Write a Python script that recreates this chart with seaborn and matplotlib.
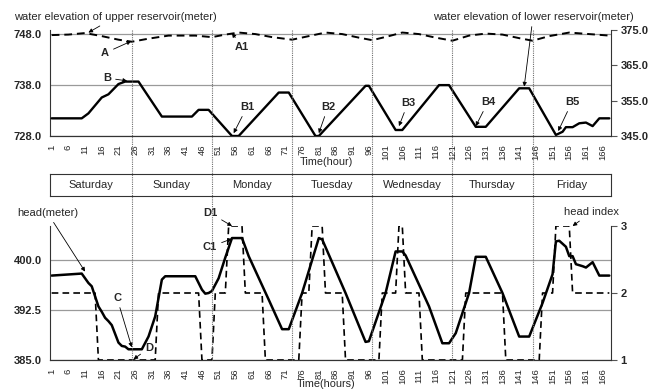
import matplotlib
matplotlib.use("Agg")
import matplotlib.pyplot as plt
import seaborn as sns
from matplotlib.lines import Line2D
from matplotlib.transforms import blended_transform_factory

# ---------------- data ----------------
upper_hours = [1, 6, 11, 16, 21, 25, 30, 36, 44, 49, 53, 57, 62, 67, 73, 78, 83, 88, 93, 97,
               102, 106, 111, 116, 121, 126, 131, 136, 141, 145, 150, 156, 162, 168]
upper_level = [747.8, 747.9, 748.2, 747.6, 746.9, 746.5, 747.1, 747.7, 747.7, 747.4, 747.9, 748.3,
               748.0, 747.4, 746.9, 747.6, 748.3, 748.0, 747.3, 746.8, 747.6, 748.3, 748.0, 747.3,
               746.7, 747.7, 748.1, 747.9, 747.2, 746.7, 747.6, 748.3, 748.0, 747.7]

lower_hours = [1, 10, 12, 16, 18, 21, 23, 27, 34, 43, 45, 48, 55, 57, 69, 72, 80, 81, 95, 96,
               104, 106, 117, 120, 128, 131, 141, 144, 152, 154, 155, 157, 159, 161, 163, 165, 168]
lower_level = [350.0, 350.0, 351.4, 355.9, 356.8, 359.7, 360.4, 360.4, 350.5, 350.5, 352.4, 352.4,
               345.0, 345.0, 357.3, 357.3, 345.0, 345.0, 359.2, 359.2, 346.7, 346.7, 359.4, 359.4,
               347.6, 347.6, 358.5, 358.5, 345.3, 346.2, 347.5, 347.5, 348.6, 348.8, 347.8, 350.0, 350.0]

head_hours = [1, 10, 11, 12, 13, 15, 16, 17, 18, 19, 21, 22, 23, 24, 28, 30, 32, 34, 35, 44, 46, 47,
              48, 49, 51, 53, 55, 58, 60, 66, 70, 72, 76, 81, 82, 89, 95, 96, 101, 104, 106, 107,
              114, 118, 120, 122, 126, 128, 131, 136, 141, 144, 148, 151, 152, 153, 155, 156, 157,
              158, 160, 161, 163, 165, 168]
head_level = [397.6, 397.9, 397.2, 396.5, 396.0, 393.0, 392.2, 391.3, 390.8, 390.2, 387.6, 387.1,
              387.0, 386.6, 386.6, 388.5, 391.5, 397.0, 397.5, 397.5, 395.5, 394.9, 395.0, 395.3,
              397.2, 400.3, 403.2, 403.2, 400.5, 394.0, 389.6, 389.6, 395.0, 403.2, 403.0, 395.0,
              387.7, 387.8, 395.0, 401.2, 401.2, 400.6, 393.0, 387.5, 387.5, 389.0, 395.0, 400.4,
              400.4, 395.0, 388.5, 388.5, 393.5, 397.8, 402.7, 402.8, 401.9, 400.5, 400.5, 399.3,
              399.0, 398.8, 399.6, 397.6, 397.6]

index_hours = [1, 14, 15, 32, 33, 45, 46, 49, 50, 53, 54, 58, 59, 64, 65, 75, 76, 78, 79, 82, 83,
               88, 89, 99, 100, 104, 105, 106, 107, 111, 112, 124, 125, 136, 137, 147, 148, 151,
               152, 156, 157, 168]
index_level = [2, 2, 1, 1, 2, 2, 1, 1, 2, 2, 3, 3, 2, 2, 1, 1, 2, 2, 3, 3, 2,
               2, 1, 1, 2, 2, 3, 3, 2, 2, 1, 1, 2, 2, 1, 1, 2, 2,
               3, 3, 2, 2]

day_names = ["Saturday", "Sunday", "Monday", "Tuesday", "Wednesday", "Thursday", "Friday"]
hour_ticks = list(range(1, 167, 5))
top_left_ticks = [728.0, 738.0, 748.0]
top_right_ticks = [345.0, 355.0, 365.0, 375.0]
bot_left_ticks = [385.0, 392.5, 400.0]
bot_right_ticks = [1, 2, 3]

# ---------------- style ----------------
sns.set_style("white")
plt.rcParams["font.family"] = ["Liberation Sans", "DejaVu Sans"]

W, H = 651, 391
fig = plt.figure(figsize=(W / 100, H / 100), dpi=100)


def rect(l, t, r, b):
    return [l / W, 1 - b / H, (r - l) / W, (b - t) / H]


def fpx(x, y):
    return (x / W, 1 - y / H)


XLIM = (0.5, 168.5)
ax_top = fig.add_axes(rect(50, 30, 611, 136))
ax_day = fig.add_axes(rect(50, 174, 611, 196))
ax_bot = fig.add_axes(rect(50, 226, 611, 360))

# ---------------- top panel ----------------
sns.lineplot(x=upper_hours, y=upper_level, ax=ax_top, color="black", lw=1.4,
             linestyle=(0, (4, 2.5)), estimator=None, sort=False)
ax_top_r = ax_top.twinx()
sns.lineplot(x=lower_hours, y=lower_level, ax=ax_top_r, color="black", lw=1.7,
             estimator=None, sort=False)

ax_top.set_xlim(*XLIM)
ax_top.set_ylim(728, 748.8)
ax_top_r.set_ylim(345, 375)

# ---------------- bottom panel ----------------
sns.lineplot(x=head_hours, y=head_level, ax=ax_bot, color="black", lw=1.8,
             estimator=None, sort=False)
ax_bot_r = ax_bot.twinx()
sns.lineplot(x=index_hours, y=index_level, ax=ax_bot_r, color="black", lw=1.2,
             linestyle=(0, (4, 2.5)), estimator=None, sort=False)
ax_bot.set_xlim(*XLIM)
ax_bot.set_ylim(385, 405)
ax_bot_r.set_ylim(1, 3)

for a_left, a_right, lticks, rticks, rfmt in [
        (ax_top, ax_top_r, top_left_ticks, top_right_ticks, "{:.1f}"),
        (ax_bot, ax_bot_r, bot_left_ticks, bot_right_ticks, "{:d}")]:
    a_left.set_xticks(hour_ticks)
    a_left.set_xticklabels([str(h) for h in hour_ticks], rotation=90, fontsize=6.8)
    a_left.tick_params(axis="x", length=0, pad=6)
    a_left.set_yticks(lticks)
    a_left.set_yticklabels(["{:.1f}".format(v) for v in lticks], fontsize=8, fontweight="bold")
    a_left.tick_params(axis="y", length=0, pad=6)
    a_left.yaxis.grid(True, color="#9a9a9a", lw=0.9)
    a_left.xaxis.grid(False)
    a_right.set_yticks(rticks)
    a_right.set_yticklabels([rfmt.format(v) for v in rticks], fontsize=8, fontweight="bold")
    a_right.tick_params(axis="y", length=4, width=0.8, pad=3, color="#555555")
    a_right.grid(False)
    for a in (a_left, a_right):
        a.set_xlabel("")
        a.set_ylabel("")
        a.spines["top"].set_visible(False)
        for s in ("left", "right", "bottom"):
            a.spines[s].set_color("#333333")
            a.spines[s].set_linewidth(0.8)
    a_left.spines["right"].set_visible(False)
    a_right.spines["left"].set_visible(False)

# ---------------- day band ----------------
ax_day.set_xlim(*XLIM)
ax_day.set_ylim(0, 1)
ax_day.set_xticks([])
ax_day.set_yticks([])
for s in ax_day.spines.values():
    s.set_visible(True)
    s.set_color("#333333")
    s.set_linewidth(0.8)
edges = [XLIM[0]] + [1 + 24 * k for k in range(1, 7)] + [XLIM[1]]
for i, name in enumerate(day_names):
    ax_day.text((edges[i] + edges[i + 1]) / 2, 0.5, name, ha="center", va="center", fontsize=8)

# vertical day separators spanning all panels
trans = blended_transform_factory(ax_top.transData, fig.transFigure)
for e in edges[1:-1]:
    fig.lines.append(Line2D([e, e], [1 - 30 / H, 1 - 360 / H], transform=trans,
                            color="#6f6f6f", lw=0.8, linestyle=(0, (1, 1))))

# axis titles
fig.text(*fpx(326, 162), "Time(hour)", ha="center", va="center", fontsize=7.8)
fig.text(*fpx(326, 384), "Time(hours)", ha="center", va="center", fontsize=7.8)

# ---------------- annotations ----------------
arrow = dict(arrowstyle="-|>", color="black", lw=0.6, mutation_scale=6, shrinkA=1, shrinkB=0)


def note(ax, text, xy, txt, ha="center", bold=True, size=8):
    ax.annotate(text, xy=xy, xycoords="data", xytext=fpx(*txt), textcoords="figure fraction",
                ha=ha, va="center", fontsize=size, fontweight="bold" if bold else "normal",
                arrowprops=arrow, annotation_clip=False)


note(ax_top, "water elevation of upper reservoir(meter)", (12, 748.3), (14, 17), ha="left", bold=False, size=8)
note(ax_top, "A", (24.8, 746.6), (105, 53))
note(ax_top, "A1", (55, 748.2), (242, 47))
note(ax_top_r, "B", (23.6, 360.6), (107, 78))
note(ax_top_r, "B1", (55.5, 345.8), (247, 107))
note(ax_top_r, "B2", (81, 345.8), (328, 107))
note(ax_top_r, "B3", (105, 347.8), (408, 103))
note(ax_top_r, "B4", (128, 347.8), (488, 102))
note(ax_top_r, "B5", (152.7, 346.4), (572, 102))
note(ax_top_r, "water elevation of lower reservoir(meter)", (142.5, 359), (533, 17), bold=False, size=8)
note(ax_bot, "head(meter)", (11, 398.2), (17, 213), ha="left", bold=False, size=8)
note(ax_bot, "C", (25, 386.9), (117, 298))
note(ax_bot, "D", (25.5, 385.1), (149, 348))
note(ax_bot_r, "D1", (55, 3.0), (210, 213))
note(ax_bot, "C1", (55, 403.1), (210, 247))
note(ax_bot_r, "head index", (157, 3.0), (592, 212), bold=False, size=8)

fig.savefig("out.png", dpi=100)
